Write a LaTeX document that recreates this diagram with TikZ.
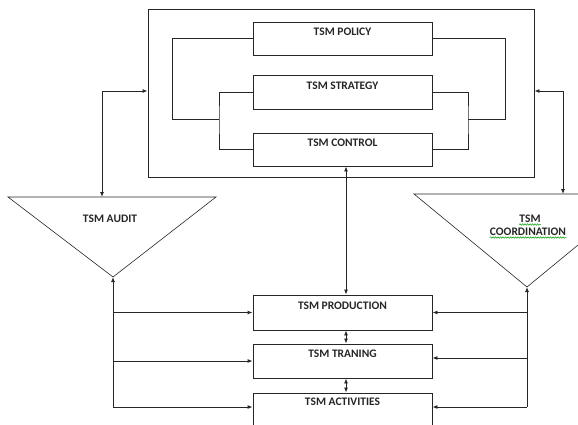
\documentclass[tikz,border=0pt]{standalone}
\usepackage{fontspec}
\setmainfont{Carlito}
\usetikzlibrary{arrows.meta,decorations.pathmorphing}
\begin{document}
\begin{tikzpicture}[x=1pt,y=-1pt,
  ln/.style={draw=black!85,line width=0.9pt},
  box/.style={ln,rectangle,inner sep=0pt,minimum width=179pt,minimum height=34pt},
  lbl/.style={font=\bfseries\fontsize{11.5}{12}\selectfont,text=black!85,inner sep=0pt},
  tip/.style={-{Latex[length=5pt,width=4pt]}},
  rtip/.style={{Latex[length=5pt,width=4pt]}-},
  btip/.style={{Latex[length=5pt,width=4pt]}-{Latex[length=5pt,width=4pt]}},
  squig/.style={draw=green!60!black,line width=0.5pt,decorate,decoration={snake,amplitude=0.7pt,segment length=2.5pt}}]
\useasboundingbox (0,0) rectangle (578,425);
\clip (0,0) rectangle (578,425);
% outer box
\node[ln,rectangle,inner sep=0pt,minimum width=386pt,minimum height=168pt] (outer) at (341,93) {};
% top boxes
\node[box,minimum height=33pt] (policy) at (342.5,38.5) {};
\node[box] (strategy) at (342.5,92) {};
\node[box,minimum height=33pt] (control) at (342.5,149.5) {};
\node[lbl] (tpolicy) at (342.5,32) {TSM POLICY};
\node[lbl] (tstrategy) at (342.5,86) {TSM STRATEGY};
\node[lbl] (tcontrol) at (342.5,143) {TSM CONTROL};
% bottom boxes
\node[box,minimum height=35pt] (production) at (342.5,312.5) {};
\node[box] (traning) at (342.5,361) {};
\node[box] (activities) at (342.5,410) {};
\node[lbl] (tproduction) at (342.5,306) {TSM PRODUCTION};
\node[lbl] (ttraning) at (342.5,354) {TSM TRANING};
\node[lbl] (tactivities) at (342.5,402) {TSM ACTIVITIES};
% brackets
\coordinate (jL) at (219,119);
\coordinate (jLL) at (172,119);
\coordinate (jR) at (505,119);
\coordinate (jRR) at (468,119);
\draw[ln] (policy.west) -| (jLL) -- (jL);
\draw[ln] (strategy.west) -| (jL) |- (control.west);
\draw[ln] (policy.east) -| (jR) -- (jRR);
\draw[ln] (strategy.east) -| (jRR) |- (control.east);
% triangles
\coordinate (auditTL) at (8,197);
\coordinate (auditTR) at (216,197);
\coordinate (auditApex) at (113,277);
\draw[ln,line width=0.6pt] (auditTL) -- (auditTR) -- (auditApex) -- cycle;
\node[lbl] (taudit) at (110,219) {TSM AUDIT};
\coordinate (coordTL) at (414,194);
\coordinate (coordTR) at (640,194);
\coordinate (coordApex) at (527,287);
\draw[ln,line width=0.6pt] (coordTL) -- (coordTR) -- (coordApex) -- cycle;
\node[lbl] (tcoord1) at (530,219) {TSM};
\node[lbl] (tcoord2) at (528,232) {COORDINATION};
\draw[squig] ([yshift=-1.5pt]tcoord1.south west) -- ([yshift=-1.5pt]tcoord1.south east);
\draw[squig] ([yshift=-1.5pt]tcoord2.south west) -- ([yshift=-1.5pt]tcoord2.south east);
% arrows audit/coordination to outer box
\coordinate (ky) at (0,91);
\coordinate (auditTop) at (102,197);
\coordinate (coordTop) at (563,194);
\draw[ln,btip] (auditTop) |- (outer.west |- ky);
\draw[ln,btip] (coordTop) |- (outer.east |- ky);
% control to production
\coordinate (vx) at (346,0);
\draw[ln,btip] (vx |- control.south) -- (vx |- production.north);
\draw[ln,btip] (vx |- production.south) -- (vx |- traning.north);
\draw[ln,btip] (vx |- traning.south) -- (vx |- activities.north);
% left feedback
\coordinate (lx) at (113,0);
\coordinate (lb) at (113,407);
\draw[ln,rtip] (auditApex) -- (lb);
\draw[ln,tip] (lb) -- (activities.west |- lb);
\draw[ln,tip] (lx |- production.west) -- (production.west);
\draw[ln,tip] (lx |- traning.west) -- (traning.west);
% right feedback
\coordinate (rx) at (527,0);
\coordinate (rb) at (527,407);
\draw[ln,rtip] (coordApex) -- (rb);
\draw[ln,tip] (rb) -- (activities.east |- rb);
\draw[ln,tip] (rx |- production.east) -- (production.east);
\coordinate (ry) at (0,358);
\draw[ln,tip] (rx |- ry) -- (traning.east |- ry);
\end{tikzpicture}
\end{document}
